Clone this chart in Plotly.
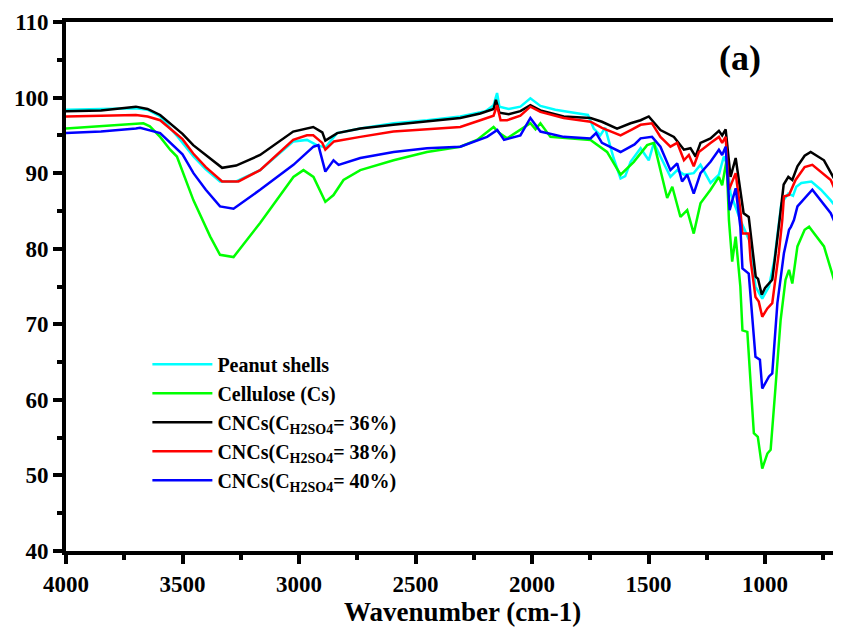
import plotly.graph_objects as go

# FTIR spectra, transmittance (%) vs wavenumber (cm-1)

# Peanut shells
ps_wn = [4000, 3850, 3700, 3650, 3596, 3520, 3453, 3400, 3339, 3270, 3167, 3024, 2966, 2924, 2887,
         2837, 2737, 2594, 2450, 2308, 2200, 2165, 2150, 2140, 2100, 2050, 2007, 1964, 1900, 1800,
         1760, 1735, 1707, 1686, 1650, 1620, 1600, 1577, 1534, 1499, 1477, 1449, 1406, 1377, 1348,
         1306, 1277, 1234, 1198, 1177, 1160, 1148, 1106, 1062, 1041, 1012, 983, 960, 945, 930,
         900, 880, 866, 844, 801, 760, 718, 674]
ps_t = [98.4, 98.5, 98.6, 98.4, 97.5, 94.8, 92.2, 90.5, 88.9, 88.9, 90.4, 94.2, 94.4, 93.7, 93.4,
        95.3, 95.9, 96.6, 97.0, 97.5, 98.2, 99.0, 100.6, 98.8, 98.5, 98.8, 99.9, 98.9, 98.4, 97.9,
        97.7, 95.9, 95.0, 96.0, 92.0, 89.3, 89.6, 91.5, 93.3, 91.7, 94.0, 92.2, 89.5, 90.4, 89.8,
        90.0, 91.1, 88.7, 89.8, 92.2, 90.9, 87.3, 83.8, 80.7, 75.0, 73.4, 75.0, 78.5, 82.0, 86.0,
        87.3, 87.0, 88.2, 88.7, 88.9, 87.8, 86.4, 84.7]

# Cellulose (Cs)
cs_wn = [4000, 3850, 3700, 3668, 3640, 3596, 3553, 3524, 3453, 3381, 3339, 3281, 3167, 3024, 2981,
         2938, 2887, 2852, 2809, 2737, 2594, 2451, 2308, 2236, 2165, 2140, 2107, 2050, 2007, 1985,
         1964, 1921, 1850, 1749, 1678, 1620, 1563, 1506, 1477, 1449, 1420, 1398, 1363, 1334, 1306,
         1277, 1234, 1198, 1184, 1165, 1155, 1141, 1126, 1106, 1097, 1076, 1048, 1031, 1012, 990,
         976, 955, 933, 912, 897, 883, 861, 830, 811, 747, 704, 674]
cs_t = [95.9, 96.2, 96.5, 96.6, 96.2, 94.8, 93.1, 92.2, 86.4, 81.6, 79.2, 78.9, 83.4, 89.5, 90.4,
        89.5, 86.2, 87.1, 89.1, 90.4, 91.7, 92.8, 93.5, 94.4, 96.1, 95.3, 94.6, 95.8, 96.6, 95.8,
        96.6, 94.8, 94.6, 94.4, 92.8, 89.8, 91.5, 93.7, 94.0, 90.4, 86.7, 88.2, 84.2, 85.1, 82.0,
        86.0, 87.8, 89.5, 88.4, 91.7, 83.8, 78.3, 81.6, 75.0, 69.2, 69.0, 55.6, 55.1, 50.9, 52.9,
        53.4, 61.7, 70.6, 75.9, 77.2, 75.4, 80.3, 82.5, 82.9, 80.3, 75.9, 72.8]

# CNCs 36 %
c36_wn = [4000, 3850, 3700, 3650, 3596, 3500, 3454, 3400, 3330, 3270, 3167, 3025, 2939, 2900, 2887,
          2836, 2737, 2595, 2450, 2308, 2222, 2165, 2155, 2140, 2100, 2050, 2007, 1964, 1864, 1749,
          1700, 1635, 1577, 1534, 1499, 1449, 1391, 1348, 1320, 1298, 1277, 1234, 1198, 1184, 1169,
          1148, 1126, 1106, 1092, 1070, 1048, 1040, 1030, 1014, 1000, 983, 969, 960, 947, 933,
          920, 900, 883, 861, 830, 804, 747, 674]
c36_t = [98.2, 98.3, 98.8, 98.5, 97.7, 95.2, 93.7, 92.4, 90.7, 91.0, 92.4, 95.5, 96.1, 95.4, 94.3,
         95.3, 95.9, 96.4, 96.9, 97.3, 97.9, 98.5, 99.7, 98.0, 97.8, 98.2, 99.0, 98.3, 97.5, 97.3,
         96.8, 95.9, 96.6, 97.0, 97.5, 95.7, 94.8, 93.1, 93.3, 92.2, 94.0, 94.6, 95.6, 95.0, 95.8,
         89.5, 92.0, 87.3, 84.7, 84.2, 78.5, 76.3, 76.0, 73.9, 74.8, 75.4, 75.9, 78.1, 81.2, 85.0,
         88.5, 89.5, 89.1, 90.9, 92.3, 92.8, 91.7, 87.6]

# CNCs 38 %
c38_wn = [4000, 3850, 3700, 3650, 3596, 3500, 3454, 3400, 3330, 3260, 3167, 3025, 2966, 2939, 2900,
          2887, 2850, 2737, 2595, 2450, 2308, 2222, 2165, 2150, 2135, 2107, 2050, 2007, 1964, 1864,
          1749, 1700, 1620, 1570, 1534, 1485, 1449, 1406, 1377, 1348, 1327, 1306, 1284, 1234, 1198,
          1184, 1169, 1155, 1126, 1106, 1097, 1070, 1062, 1041, 1027, 1012, 990, 969, 941, 926,
          919, 897, 869, 830, 797, 718, 674]
c38_t = [97.5, 97.6, 97.7, 97.5, 97.0, 94.5, 92.6, 90.8, 88.9, 88.9, 90.4, 94.4, 95.0, 95.0, 94.0,
         93.1, 94.2, 94.8, 95.5, 95.8, 96.1, 97.0, 97.6, 99.0, 97.0, 97.0, 97.6, 98.8, 98.1, 97.3,
         96.8, 96.0, 95.0, 95.8, 96.4, 96.6, 94.8, 93.5, 94.0, 91.7, 92.4, 90.9, 92.8, 94.0, 94.8,
         94.0, 94.8, 87.8, 90.0, 85.1, 82.0, 82.0, 78.5, 73.6, 73.0, 71.0, 72.1, 72.8, 79.4, 83.8,
         86.9, 87.1, 89.1, 90.8, 91.1, 89.1, 86.0]

# CNCs 40 %
c40_wn = [4000, 3850, 3700, 3682, 3596, 3500, 3453, 3400, 3339, 3281, 3167, 3024, 2938, 2917, 2887,
          2852, 2830, 2737, 2594, 2451, 2308, 2193, 2149, 2120, 2050, 2007, 1964, 1864, 1749, 1725,
          1700, 1620, 1560, 1534, 1485, 1449, 1406, 1377, 1356, 1334, 1306, 1277, 1234, 1198, 1184,
          1169, 1152, 1126, 1106, 1097, 1070, 1041, 1022, 1012, 983, 969, 947, 919, 897, 889,
          876, 861, 797, 718, 674]
c40_t = [95.3, 95.5, 95.9, 96.0, 95.3, 92.5, 90.0, 87.8, 85.6, 85.3, 87.8, 91.1, 93.5, 93.7, 90.2,
         91.7, 91.1, 92.0, 92.8, 93.3, 93.5, 94.8, 95.7, 94.4, 95.0, 97.3, 95.5, 94.8, 94.6, 95.3,
         94.0, 92.8, 93.8, 94.6, 94.8, 93.5, 90.4, 91.3, 88.9, 89.8, 87.3, 90.0, 91.5, 93.1, 92.4,
         93.5, 85.1, 88.0, 82.9, 77.4, 76.7, 65.7, 65.3, 61.5, 63.1, 63.5, 72.8, 79.4, 82.5, 82.9,
         83.8, 85.6, 87.8, 84.7, 81.6]

series = [
    ("Peanut shells", ps_wn, ps_t, "#00FFFF"),
    ("Cellulose (Cs)", cs_wn, cs_t, "#00FF00"),
    ("CNCs(C<sub>H2SO4</sub>= 36%)", c36_wn, c36_t, "#000000"),
    ("CNCs(C<sub>H2SO4</sub>= 38%)", c38_wn, c38_t, "#FF0000"),
    ("CNCs(C<sub>H2SO4</sub>= 40%)", c40_wn, c40_t, "#0000FF"),
]

serif = "Liberation Serif, Times New Roman, serif"

fig = go.Figure()
for name, wn, t, col in series:
    fig.add_trace(go.Scatter(x=wn, y=t, mode="lines", name=name,
                             line=dict(color=col, width=2.5)))

# the page body has an 8px margin, so the figure is 8px smaller than the window
fig.update_layout(
    width=833, height=619,
    margin=dict(l=58, r=0, t=14, b=76, autoexpand=False),
    plot_bgcolor="white", paper_bgcolor="white",
    font=dict(family=serif, color="black", weight="bold"),
    legend=dict(x=0.105, y=0.39, xanchor="left", yanchor="top", itemwidth=60,
                bgcolor="rgba(0,0,0,0)", font=dict(size=20, family=serif, weight="bold"),
                tracegroupgap=0),
    annotations=[
        dict(text="(a)", x=0.87, y=0.932, xref="paper", yref="paper",
             xanchor="center", yanchor="middle", showarrow=False,
             font=dict(size=36, family=serif, weight="bold")),
        dict(text="Wavenumber (cm-1)", x=0.512, y=-0.116, xref="paper", yref="paper",
             xanchor="center", yanchor="middle", showarrow=False,
             font=dict(size=27, family=serif, weight="bold")),
    ],
)

fig.update_xaxes(range=[4000, 674], dtick=500, tick0=0, automargin=False,
                 showline=True, linewidth=4, linecolor="black", mirror=True,
                 ticks="outside", ticklen=9, tickwidth=4, tickcolor="black",
                 minor=dict(dtick=250, ticks="outside", ticklen=5, tickwidth=4, tickcolor="black"),
                 showgrid=False, zeroline=False,
                 tickfont=dict(size=23, family=serif, weight="bold"))

fig.update_yaxes(range=[40, 110], dtick=10, automargin=False,
                 showline=True, linewidth=4, linecolor="black",
                 ticks="outside", ticklen=9, tickwidth=4, tickcolor="black",
                 minor=dict(dtick=5, ticks="outside", ticklen=5, tickwidth=4, tickcolor="black"),
                 showgrid=False, zeroline=False,
                 tickfont=dict(size=23, family=serif, weight="bold"))

fig.write_html("out.html")
